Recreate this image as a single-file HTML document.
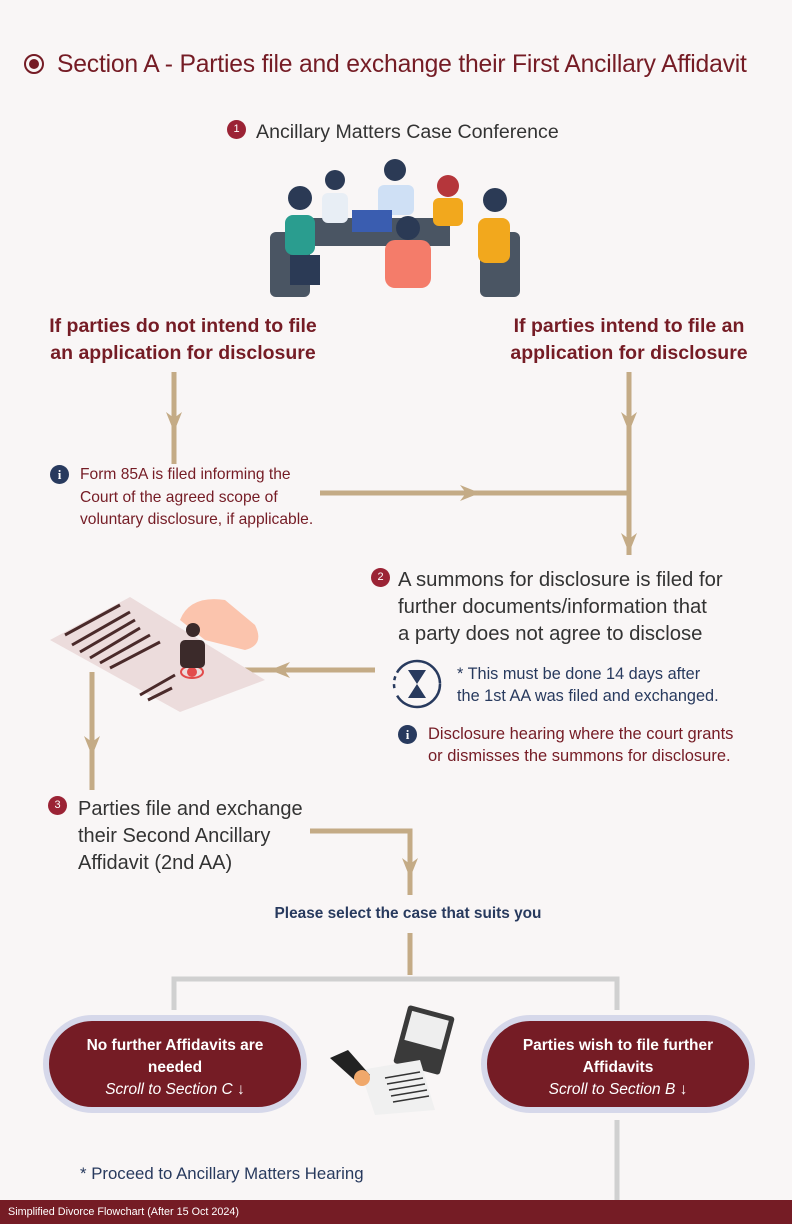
<!DOCTYPE html>
<html><head><meta charset="utf-8"><style>
body{margin:0;width:792px;height:1224px;background:#f9f6f6;position:relative;overflow:hidden;font-family:"Liberation Sans",sans-serif}
.t{position:absolute;white-space:nowrap}
.m{color:#751c25}.n{color:#283a5e}.d{color:#333}
.num{position:absolute;width:19px;height:19px;border-radius:50%;background:#9b2335;color:#fff;font-size:11px;text-align:center;line-height:19px}
.info{position:absolute;width:19px;height:19px;border-radius:50%;background:#283a5e;color:#fff;font-size:13px;font-weight:bold;text-align:center;line-height:19px;font-family:"Liberation Serif",serif}
.pill{position:absolute;border:6px solid #d6d8ea;border-radius:50px;background:#751c25;color:#fff;text-align:center;font-size:15.5px;line-height:22px;box-sizing:border-box;padding-top:14px}
</style></head><body>
<svg width="792" height="1224" style="position:absolute;left:0;top:0">
<g fill="none" stroke="#c4ab86" stroke-width="5">
<path d="M174 372V464"/><path d="M629 372V555"/><path d="M320 493H629"/>
<path d="M375 670H218"/><path d="M92 672V790"/><path d="M310 831H410V895"/><path d="M410 933V975"/>
</g>
<g fill="#c4ab86">
<path d="M166 412L174 432L182 412L174 418Z"/><path d="M621 412L629 432L637 412L629 418Z"/><path d="M621 533L629 553L637 533L629 539Z"/>
<path d="M460 485L480 493L460 501L466 493Z"/><path d="M290 662L270 670L290 678L284 670Z"/>
<path d="M84 736L92 756L100 736L92 742Z"/><path d="M402 858L410 878L418 858L410 864Z"/>
</g>
<g fill="none" stroke="#d0d0d0" stroke-width="5"><path d="M174 1010V979H617V1010"/><path d="M617 1120V1200"/></g>
<circle cx="34" cy="64" r="9" fill="none" stroke="#751c25" stroke-width="2"/><circle cx="34" cy="64" r="5" fill="#751c25"/>
<rect x="300" y="218" width="150" height="28" fill="#4a5563"/>
<rect x="270" y="232" width="40" height="65" rx="6" fill="#4a5563"/>
<rect x="480" y="232" width="40" height="65" rx="6" fill="#4a5563"/>
<circle cx="300" cy="198" r="12" fill="#2b3a55"/><rect x="285" y="215" width="30" height="40" rx="8" fill="#2a9d8f"/>
<circle cx="335" cy="180" r="10" fill="#2b3a55"/><rect x="322" y="193" width="26" height="30" rx="6" fill="#e8eef5"/>
<circle cx="395" cy="170" r="11" fill="#2b3a55"/><rect x="378" y="185" width="36" height="30" rx="6" fill="#cfe0f5"/>
<circle cx="448" cy="186" r="11" fill="#b5363b"/><rect x="433" y="198" width="30" height="28" rx="6" fill="#f2a81d"/>
<circle cx="495" cy="200" r="12" fill="#2b3a55"/><rect x="478" y="218" width="32" height="45" rx="8" fill="#f2a81d"/>
<circle cx="408" cy="228" r="12" fill="#2b3a55"/><rect x="385" y="240" width="46" height="48" rx="10" fill="#f47c6a"/>
<rect x="352" y="210" width="40" height="22" fill="#3a5db0"/><rect x="290" y="255" width="30" height="30" fill="#2b3a55"/>
<path d="M50 640L130 597L265 680L180 712Z" fill="#ecdcdc"/>
<g stroke="#4a2a2a" stroke-width="3"><path d="M65 635L120 605M72 645L130 612M80 652L135 620M90 658L140 628M100 663L150 635M110 668L160 642M140 695L175 675M148 700L172 688"/></g>
<ellipse cx="192" cy="672" rx="11" ry="6" fill="none" stroke="#e24b4b" stroke-width="2"/><circle cx="192" cy="672" r="5" fill="#e24b4b"/>
<rect x="180" y="640" width="25" height="28" rx="5" fill="#3b2a2a"/>
<path d="M180 620Q190 595 225 600L255 625Q265 645 245 650L205 640Z" fill="#fbc4ad"/>
<circle cx="193" cy="630" r="7" fill="#3b2a2a"/>
<circle cx="417" cy="684" r="23" fill="none" stroke="#283a5e" stroke-width="2.5" stroke-dasharray="60 8 4 4 4 4"/>
<path d="M408 670H426L417 684L426 698H408L417 684Z" fill="#283a5e"/>
<rect x="400" y="1010" width="48" height="60" rx="3" fill="#3a3a3a" transform="rotate(15 424 1040)"/>
<rect x="405" y="1015" width="38" height="30" fill="#eee" transform="rotate(15 424 1040)"/>
<path d="M360 1070L420 1060L435 1110L375 1115Z" fill="#f0f0f0"/>
<g stroke="#333" stroke-width="1.5"><path d="M385 1078L420 1072M387 1084L423 1078M389 1090L425 1084M391 1096L427 1090M393 1102L429 1096"/></g>
<path d="M330 1058L348 1050L370 1075L360 1085Z" fill="#222"/><circle cx="362" cy="1078" r="8" fill="#f0a86b"/>
</svg>
<div class="t m" style="left:57px;top:51px;font-size:24.7px;letter-spacing:-0.2px">Section A - Parties file and exchange their First Ancillary Affidavit</div>
<div class="num" style="left:227px;top:120px">1</div>
<div class="t d" style="left:256px;top:121px;font-size:19.6px">Ancillary Matters Case Conference</div>
<div class="t m" style="left:30px;top:313px;width:306px;text-align:center;font-size:19.5px;font-weight:bold;line-height:27px">If parties do not intend to file<br>an application for disclosure</div>
<div class="t m" style="left:490px;top:313px;width:278px;text-align:center;font-size:19.5px;font-weight:bold;line-height:27px">If parties intend to file an<br>application for disclosure</div>
<div class="info" style="left:50px;top:465px">i</div>
<div class="t m" style="left:80px;top:464px;font-size:15.6px;line-height:22.5px">Form 85A is filed informing the<br>Court of the agreed scope of<br>voluntary disclosure, if applicable.</div>
<div class="num" style="left:371px;top:568px">2</div>
<div class="t d" style="left:398px;top:567px;font-size:20.3px;line-height:27px">A summons for disclosure is filed for<br>further documents/information that<br>a party does not agree to disclose</div>
<div class="t n" style="left:457px;top:663px;font-size:16.3px;line-height:22px">* This must be done 14 days after<br>the 1st AA was filed and exchanged.</div>
<div class="info" style="left:398px;top:725px">i</div>
<div class="t m" style="left:428px;top:723px;font-size:16.5px;line-height:22px">Disclosure hearing where the court grants<br>or dismisses the summons for disclosure.</div>
<div class="num" style="left:48px;top:796px">3</div>
<div class="t d" style="left:78px;top:796px;font-size:20px;line-height:27px">Parties file and exchange<br>their Second Ancillary<br>Affidavit (2nd AA)</div>
<div class="t n" style="left:258px;top:905px;width:300px;text-align:center;font-size:15.4px;font-weight:bold">Please select the case that suits you</div>
<div class="pill" style="left:43px;top:1015px;width:264px;height:98px"><b>No further Affidavits are<br>needed</b><br><i>Scroll to Section C ↓</i></div>
<div class="pill" style="left:481px;top:1015px;width:274px;height:98px"><b>Parties wish to file further<br>Affidavits</b><br><i>Scroll to Section B ↓</i></div>
<div class="t n" style="left:80px;top:1164px;font-size:16.8px">* Proceed to Ancillary Matters Hearing</div>
<div style="position:absolute;left:0;top:1200px;width:792px;height:24px;background:#751c25"></div>
<div class="t" style="left:8px;top:1206px;font-size:10.8px;color:#fff">Simplified Divorce Flowchart (After 15 Oct 2024)</div>
</body></html>
